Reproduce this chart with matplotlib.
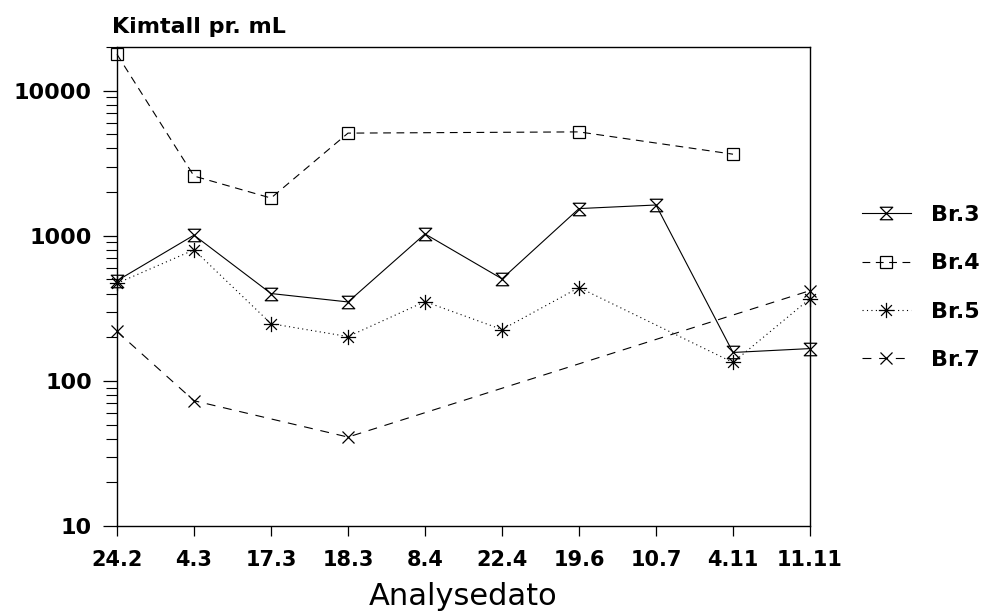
import numpy as np
import matplotlib.pyplot as plt
from matplotlib.path import Path
from matplotlib.ticker import FixedLocator, LogLocator, NullFormatter

# sampling dates (day.month) and germ counts per mL for each well
dates = ['24.2', '4.3', '17.3', '18.3', '8.4', '22.4', '19.6', '10.7', '4.11', '11.11']
br3 = [490, 1010, 400, 350, 1030, 505, 1540, 1630, 157, 167]
br4 = [17800, 2580, 1820, 5100, np.nan, np.nan, 5200, np.nan, 3650, np.nan]
br5 = [470, 800, 248, 202, 352, 226, 440, np.nan, 134, 369]
br7 = [219, 73, np.nan, 41, np.nan, np.nan, np.nan, np.nan, np.nan, 419]
y_ticks = [10, 100, 1000, 10000]

# custom markers: hourglass and 8-spoke asterisk
hourglass = Path([(-1, 1), (1, 1), (-1, -1), (1, -1), (-1, 1)],
                 [Path.MOVETO, Path.LINETO, Path.LINETO, Path.LINETO, Path.CLOSEPOLY])
d = 0.7071
asterisk = Path([(0, -1), (0, 1), (-1, 0), (1, 0), (-d, -d), (d, d), (-d, d), (d, -d)],
                [Path.MOVETO, Path.LINETO] * 4)

plt.rcParams['font.family'] = 'DejaVu Sans'

fig = plt.figure(figsize=(9.9, 6.14), dpi=100)
ax = fig.add_axes([117 / 990, 1 - 526 / 614, 693 / 990, 479 / 614])

series = [
    ('Br.3', br3, '-', hourglass, 9),
    ('Br.4', br4, (0, (7, 5)), 's', 8),
    ('Br.5', br5, (0, (1, 3)), asterisk, 11),
    ('Br.7', br7, (0, (8, 7)), 'x', 9),
]
x_all = np.arange(len(dates))
for name, vals, ls, mk, ms in series:
    v = np.array(vals, dtype=float)
    ok = ~np.isnan(v)
    ax.plot(x_all[ok], v[ok], color='black', lw=0.8, ls=ls, marker=mk, ms=ms,
            mfc='none', mec='black', mew=0.9, label=name, clip_on=False)

ax.set_yscale('log')
ax.set_ylim(10, 20000)
ax.set_xlim(0, len(dates) - 1)

ax.yaxis.set_major_locator(FixedLocator(y_ticks))
ax.set_yticklabels([str(t) for t in y_ticks], fontsize=16, fontweight='bold')
ax.yaxis.set_minor_locator(LogLocator(base=10, subs=np.arange(2, 10)))
ax.yaxis.set_minor_formatter(NullFormatter())
ax.set_xticks(x_all)
ax.set_xticklabels(dates, fontsize=15, fontweight='bold')

ax.tick_params(axis='y', which='major', direction='out', length=10, width=0.9, pad=8)
ax.tick_params(axis='y', which='minor', direction='out', length=8, width=0.8)
ax.tick_params(axis='x', direction='out', length=7, width=0.9, pad=10)
for s in ax.spines.values():
    s.set_linewidth(1.0)

ax.set_xlabel('Analysedato', fontsize=22, labelpad=9)
fig.text(112 / 990, 1 - 33 / 614, 'Kimtall pr. mL', fontsize=16, fontweight='bold',
         ha='left', va='baseline')

leg = ax.legend(loc='center left', bbox_to_anchor=(1.075, 0.498), frameon=False,
                borderaxespad=0, borderpad=0, handlelength=2.2, handletextpad=0.9,
                labelspacing=1.27, prop={'size': 16, 'weight': 'bold'})

fig.savefig('out.png', dpi=100)
